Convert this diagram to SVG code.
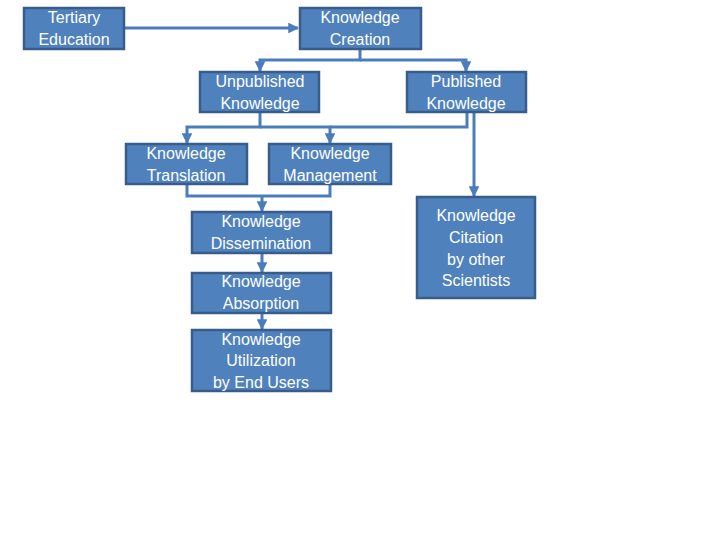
<svg xmlns="http://www.w3.org/2000/svg" width="720" height="540" viewBox="0 0 720 540">
<defs>
<marker id="ah" viewBox="0 0 10 10" refX="9" refY="5" markerWidth="3.6" markerHeight="3.6" orient="auto" markerUnits="strokeWidth">
<path d="M0,0 L10,5 L0,10 z" fill="#4a7ebb"/>
</marker>
<style>
.box{fill:#4f81bd;stroke:#385d8a;stroke-width:2.5}
.t{fill:#ffffff;font-family:"Liberation Sans",Arial,sans-serif;font-size:16px;text-anchor:middle}
.c{fill:none;stroke:#4a7ebb;stroke-width:3}
</style>
</defs>
<rect width="720" height="540" fill="#ffffff"/>
<g id="connectors">
<path class="c" d="M124,28 L298,28" marker-end="url(#ah)"/>
<path class="c" d="M360,49 L360,60 L260,60 L260,71" marker-end="url(#ah)"/>
<path class="c" d="M360,60 L466,60 L466,71" marker-end="url(#ah)"/>
<path class="c" d="M260,112 L260,127 L187,127 L187,143" marker-end="url(#ah)"/>
<path class="c" d="M260,127 L330,127 L330,143" marker-end="url(#ah)"/>
<path class="c" d="M330,127 L467,127 L467,112"/>
<path class="c" d="M474,112 L474,196" marker-end="url(#ah)"/>
<path class="c" d="M187,184 L187,196 L330,196 L330,184"/>
<path class="c" d="M262,196 L262,211" marker-end="url(#ah)"/>
<path class="c" d="M262,253 L262,272" marker-end="url(#ah)"/>
<path class="c" d="M262,313 L262,329" marker-end="url(#ah)"/>
</g>
<g id="tertiary">
<rect class="box" x="24" y="8" width="100" height="41"/>
<text class="t" x="74" y="23">Tertiary</text>
<text class="t" x="74" y="45">Education</text>
</g>
<g id="creation">
<rect class="box" x="300" y="8" width="121" height="41"/>
<text class="t" x="360" y="23">Knowledge</text>
<text class="t" x="360" y="45">Creation</text>
</g>
<g id="unpublished">
<rect class="box" x="200" y="72" width="119" height="40"/>
<text class="t" x="260" y="87">Unpublished</text>
<text class="t" x="260" y="109">Knowledge</text>
</g>
<g id="published">
<rect class="box" x="407" y="72" width="119" height="40"/>
<text class="t" x="466" y="87">Published</text>
<text class="t" x="466" y="109">Knowledge</text>
</g>
<g id="translation">
<rect class="box" x="126" y="144" width="121" height="40"/>
<text class="t" x="186" y="159">Knowledge</text>
<text class="t" x="186" y="181">Translation</text>
</g>
<g id="management">
<rect class="box" x="269" y="144" width="122" height="40"/>
<text class="t" x="330" y="159">Knowledge</text>
<text class="t" x="330" y="181">Management</text>
</g>
<g id="dissemination">
<rect class="box" x="192" y="212" width="139" height="41"/>
<text class="t" x="261" y="227">Knowledge</text>
<text class="t" x="261" y="249">Dissemination</text>
</g>
<g id="absorption">
<rect class="box" x="192" y="273" width="139" height="40"/>
<text class="t" x="261" y="287">Knowledge</text>
<text class="t" x="261" y="309">Absorption</text>
</g>
<g id="utilization">
<rect class="box" x="192" y="330" width="139" height="61"/>
<text class="t" x="261" y="345">Knowledge</text>
<text class="t" x="261" y="366">Utilization</text>
<text class="t" x="261" y="388">by End Users</text>
</g>
<g id="citation">
<rect class="box" x="417" y="197" width="118" height="101"/>
<text class="t" x="476" y="221">Knowledge</text>
<text class="t" x="476" y="243">Citation</text>
<text class="t" x="476" y="265">by other</text>
<text class="t" x="476" y="286">Scientists</text>
</g>
</svg>
